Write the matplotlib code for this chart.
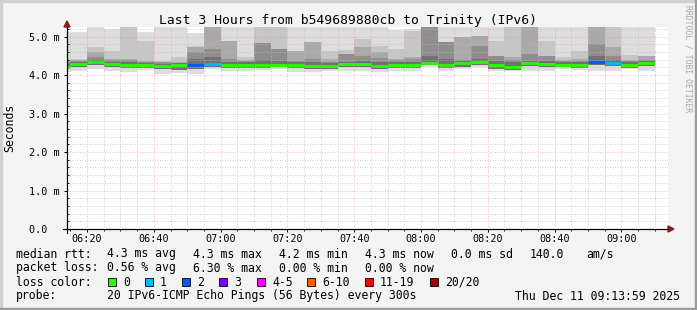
import numpy as np
import matplotlib
matplotlib.use("Agg")
from matplotlib import pyplot as plt
from matplotlib.ticker import MultipleLocator, FuncFormatter
from matplotlib.patches import Rectangle, Polygon
from matplotlib.lines import Line2D

# SmokePing style: 20 pings every 300 s, one column per sample
# column start, minutes after 06:00 (first column is only partly visible)
col_start = [10, 15, 20, 25, 30, 35, 40, 45, 50, 55, 60, 65, 70, 75, 80, 85, 90, 95,
             100, 105, 110, 115, 120, 125, 130, 135, 140, 145, 150, 155, 160, 165, 170, 175, 180, 185]

# median rtt (ms)
median = [4.22, 4.30, 4.34, 4.28, 4.27, 4.25, 4.23, 4.27, 4.25, 4.29, 4.27, 4.27, 4.27, 4.27,
          4.27, 4.23, 4.23, 4.28, 4.28, 4.24, 4.27, 4.27, 4.32, 4.27, 4.31, 4.34, 4.25, 4.22,
          4.31, 4.30, 4.27, 4.27, 4.34, 4.31, 4.25, 4.31]
# lost pings out of 20
loss = [0, 0, 0, 0, 0, 0, 0, 0, 2, 1, 0, 0, 0, 0, 0, 0, 0, 0,
        0, 0, 0, 0, 0, 0, 0, 0, 0, 0, 0, 0, 0, 0, 2, 1, 0, 0]

# smoke band tops (ms), outermost to innermost
smoke_top1 = [5.11, 5.11, 5.30, 5.19, 5.30, 5.13, 5.30, 5.30, 5.09, 5.30, 5.30, 5.30, 5.30, 5.30,
              5.30, 5.30, 5.30, 5.30, 5.30, 5.30, 5.17, 5.20, 5.30, 5.30, 5.30, 5.30, 5.30, 5.30,
              5.30, 5.30, 5.30, 5.30, 5.30, 5.30, 5.30, 5.30]
smoke_top2 = [4.45, 4.42, 4.74, 4.63, 5.30, 4.89, 4.37, 4.46, 4.76, 5.30, 4.89, 4.46, 5.30, 5.30,
              4.63, 4.85, 4.63, 4.65, 4.94, 4.76, 4.68, 5.15, 5.30, 4.85, 4.98, 5.02, 4.89, 5.30,
              5.30, 4.89, 4.46, 4.63, 5.30, 5.30, 4.52, 4.50]
smoke_top3 = [4.38, 4.39, 4.59, 4.42, 4.42, 4.37, 4.35, 4.33, 4.72, 5.30, 4.89, 4.40, 4.83, 4.68,
              4.63, 4.85, 4.42, 4.55, 4.72, 4.59, 4.42, 4.46, 5.30, 4.85, 4.98, 5.02, 4.50, 4.46,
              5.30, 4.50, 4.40, 4.42, 5.30, 4.72, 4.40, 4.50]
smoke_top4 = [4.33, 4.37, 4.46, 4.39, 4.38, 4.35, 4.33, 4.32, 4.59, 4.68, 4.42, 4.37, 4.83, 4.68,
              4.37, 4.42, 4.33, 4.55, 4.50, 4.45, 4.40, 4.42, 5.30, 4.85, 4.40, 4.76, 4.50, 4.40,
              4.55, 4.50, 4.37, 4.37, 4.81, 4.50, 4.37, 4.40]
smoke_top5 = [4.28, 4.35, 4.40, 4.35, 4.33, 4.32, 4.30, 4.31, 4.42, 4.46, 4.35, 4.34, 4.40, 4.37,
              4.34, 4.35, 4.31, 4.33, 4.36, 4.34, 4.33, 4.33, 4.50, 4.42, 4.37, 4.42, 4.36, 4.33,
              4.37, 4.36, 4.34, 4.33, 4.50, 4.40, 4.33, 4.36]
# smoke bottoms (ms): inner bands and outer band
smoke_low_in = [4.15, 4.22, 4.26, 4.22, 4.18, 4.18, 4.15, 4.14, 4.17, 4.22, 4.19, 4.19, 4.19, 4.20,
                4.18, 4.15, 4.16, 4.20, 4.20, 4.16, 4.19, 4.19, 4.27, 4.19, 4.22, 4.26, 4.17, 4.14,
                4.23, 4.22, 4.20, 4.19, 4.26, 4.23, 4.18, 4.23]
smoke_low_out = [4.08, 4.11, 4.16, 4.11, 4.07, 4.12, 4.03, 4.05, 4.03, 4.16, 4.11, 4.11, 4.14, 4.17,
                 4.07, 4.07, 4.11, 4.11, 4.11, 4.07, 4.11, 4.11, 4.20, 4.11, 4.16, 4.20, 4.11, 4.11,
                 4.11, 4.11, 4.16, 4.14, 4.11, 4.11, 4.16, 4.11]

loss_labels = ["0", "1", "2", "3", "4-5", "6-10", "11-19", "20/20"]
loss_colors = ["#26ff00", "#00b8ff", "#0059ff", "#7e00ff", "#ff00ff", "#ff5e00", "#ff0000", "#a10000"]
band_colors = ["#dddddd", "#c6c6c6", "#a9a9a9", "#8e8e8e", "#717171"]

W, H = 697, 310
MONO = "DejaVu Sans Mono"
plt.rcParams["font.family"] = MONO


def fx(x):
    return x / W


def fy(y):
    return 1 - y / H


fig = plt.figure(figsize=(W / 100, H / 100), dpi=100, facecolor="#f3f3f3")
ax = fig.add_axes([fx(67), fy(229), (668 - 67) / W, (229 - 27) / H])
ax.set_facecolor("white")

x0 = np.array(col_start, dtype=float)
low_in = np.array(smoke_low_in)
tops = [smoke_top1, smoke_top2, smoke_top3, smoke_top4, smoke_top5]
for i, (top, col) in enumerate(zip(tops, band_colors)):
    bottom = np.array(smoke_low_out) if i == 0 else low_in
    ax.bar(x0, np.array(top) - bottom, bottom=bottom, width=5, align="edge",
           color=col, linewidth=0, zorder=1)

# median line, coloured by loss
med_colors = []
for l in loss:
    if l <= 3:
        med_colors.append(loss_colors[l])
    elif l <= 5:
        med_colors.append(loss_colors[4])
    elif l <= 10:
        med_colors.append(loss_colors[5])
    elif l < 20:
        med_colors.append(loss_colors[6])
    else:
        med_colors.append(loss_colors[7])
ax.hlines(median, x0, x0 + 5, colors=med_colors, linewidth=2.0, zorder=4, capstyle="butt")

ax.set_xlim(13.983, 193.983)
ax.set_ylim(0, 5.25)

ax.xaxis.set_major_locator(MultipleLocator(20))
ax.xaxis.set_minor_locator(MultipleLocator(5))
ax.yaxis.set_major_locator(MultipleLocator(1))
ax.yaxis.set_minor_locator(MultipleLocator(0.2))
ax.xaxis.set_major_formatter(FuncFormatter(lambda v, p: "%02d:%02d" % (int(v) // 60 + 6, int(v) % 60)))
ax.yaxis.set_major_formatter(FuncFormatter(lambda v, p: "0.0  " if abs(v) < 1e-9 else "%.1f m" % v))

ax.grid(which="major", color="#ff8080", linestyle=(0, (1, 2)), linewidth=0.6, alpha=0.8)
ax.grid(which="minor", color="#bdbdbd", linestyle=(0, (1, 2)), linewidth=0.6)
ax.set_axisbelow(False)

for s in ["top", "right"]:
    ax.spines[s].set_visible(False)
for s in ["left", "bottom"]:
    ax.spines[s].set_linewidth(0.8)
    ax.spines[s].set_zorder(5)

ax.tick_params(which="major", length=2, width=0.7, labelsize=7.3, pad=3)
ax.tick_params(axis="x", which="major", pad=1.5)
ax.tick_params(which="minor", length=1.2, width=0.6)
ax.tick_params(axis="y", which="minor", direction="in")

ax.set_ylabel("Seconds", fontsize=8.3)
ax.yaxis.set_label_coords((16 - 67) / 601, 0.5)

# axis arrows
arrow_col = "#8b1a1a"
fig.add_artist(Line2D([fx(63), fx(668)], [fy(229), fy(229)], color="black", lw=0.8))
fig.add_artist(Line2D([fx(67), fx(67)], [fy(233), fy(27)], color="black", lw=0.8))
fig.add_artist(Polygon([[fx(668), fy(226)], [fx(668), fy(232)], [fx(674), fy(229)]],
                       closed=True, color=arrow_col, transform=fig.transFigure))
fig.add_artist(Polygon([[fx(64), fy(27)], [fx(70), fy(27)], [fx(67), fy(21)]],
                       closed=True, color=arrow_col, transform=fig.transFigure))

fig.text(fx(348), fy(24), "Last 3 Hours from b549689880cb to Trinity (IPv6)",
         ha="center", va="baseline", fontsize=9.4)
fig.text(fx(688), fy(5), "RRDTOOL / TOBI OETIKER", rotation=270, ha="center", va="top",
         fontsize=5.8, color="#a8a8a8")

fs = 8.3
rows = {"median": 254, "loss": 268, "color": 282, "probe": 296}
fig.text(fx(16), fy(rows["median"]), "median rtt:", fontsize=fs, va="center")
for xp, s in zip([107, 193, 279, 365, 451, 530, 586],
                 ["4.3 ms avg", "4.3 ms max", "4.2 ms min", "4.3 ms now", "0.0 ms sd", "140.0", "am/s"]):
    fig.text(fx(xp), fy(rows["median"]), s, fontsize=fs, va="center")

fig.text(fx(16), fy(rows["loss"]), "packet loss:", fontsize=fs, va="center")
for xp, s in zip([107, 193, 279, 365], ["0.56 % avg", "6.30 % max", "0.00 % min", "0.00 % now"]):
    fig.text(fx(xp), fy(rows["loss"]), s, fontsize=fs, va="center")

fig.text(fx(16), fy(rows["color"]), "loss color:", fontsize=fs, va="center")
box_x = [108, 145, 182, 219, 257, 307, 365, 430]
for xb, lab, col in zip(box_x, loss_labels, loss_colors):
    fig.add_artist(Rectangle((fx(xb), fy(rows["color"] + 4)), 8 / W, 8 / H, facecolor=col,
                             edgecolor="black", lw=0.6, transform=fig.transFigure))
    fig.text(fx(xb + 15), fy(rows["color"]), lab, fontsize=fs, va="center")

fig.text(fx(16), fy(rows["probe"]), "probe:", fontsize=fs, va="center")
fig.text(fx(107), fy(rows["probe"]), "20 IPv6-ICMP Echo Pings (56 Bytes) every 300s", fontsize=fs, va="center")
fig.text(fx(680), fy(rows["probe"]), "Thu Dec 11 09:13:59 2025", fontsize=fs, va="center", ha="right")

# 3d frame round the image
fig.add_artist(Rectangle((0, 1 - 2 / H), 1, 2 / H, color="#cfcfcf", transform=fig.transFigure))
fig.add_artist(Rectangle((0, 0), 2 / W, 1, color="#cfcfcf", transform=fig.transFigure))
fig.add_artist(Rectangle((0, 0), 1, 2 / H, color="#9c9c9c", transform=fig.transFigure))
fig.add_artist(Rectangle((1 - 2 / W, 0), 2 / W, 1, color="#9c9c9c", transform=fig.transFigure))

fig.savefig("out.png", dpi=100, facecolor=fig.get_facecolor())
